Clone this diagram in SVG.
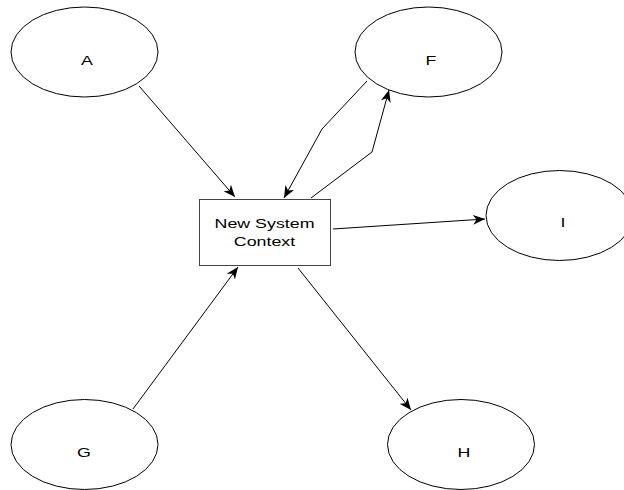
<svg xmlns="http://www.w3.org/2000/svg" width="624" height="490" viewBox="0 0 624 490">
  <defs>
    <marker id="arrow" viewBox="0 0 12 10" refX="12" refY="5" markerWidth="12" markerHeight="10" markerUnits="userSpaceOnUse" orient="auto">
      <path d="M0,0 L12,5 L0,10 L3.5,5 Z" fill="#000"/>
    </marker>
  </defs>
  <style>
    .node ellipse { fill: #fff; stroke: #000; stroke-width: 1; }
    .node rect { fill: #fff; stroke: #444; stroke-width: 1; }
    .label { font-family: "Liberation Sans", Arial, sans-serif; font-size: 13.5px; fill: #000; text-anchor: middle; }
    .edge { fill: none; stroke: #000; stroke-width: 1; marker-end: url(#arrow); }
  </style>
  <rect width="624" height="490" fill="#fff"/>

  <g id="connectors">
    <path class="edge" d="M139,86 L235,197"/>
    <path class="edge" d="M367,81 L322,129 L284,198"/>
    <path class="edge" d="M311,198 L372,152 L389,90"/>
    <path class="edge" d="M333,229 L485,219"/>
    <path class="edge" d="M298,268 L411,410"/>
    <path class="edge" d="M133,409 L238,267"/>
  </g>

  <g id="node-A" class="node">
    <ellipse cx="84.5" cy="52" rx="73.5" ry="45"/>
    <text class="label" transform="translate(87,65) scale(1.32,1)">A</text>
  </g>
  <g id="node-F" class="node">
    <ellipse cx="428.5" cy="52" rx="73.5" ry="45"/>
    <text class="label" transform="translate(431,65) scale(1.32,1)">F</text>
  </g>
  <g id="node-I" class="node">
    <ellipse cx="559.5" cy="215.5" rx="73.5" ry="45"/>
    <text class="label" transform="translate(563,227) scale(1.32,1)">I</text>
  </g>
  <g id="node-G" class="node">
    <ellipse cx="84.5" cy="444.5" rx="73.5" ry="45"/>
    <text class="label" transform="translate(84,457) scale(1.32,1)">G</text>
  </g>
  <g id="node-H" class="node">
    <ellipse cx="461" cy="444.5" rx="73.5" ry="45"/>
    <text class="label" transform="translate(464,457) scale(1.32,1)">H</text>
  </g>
  <g id="node-context" class="node">
    <rect x="199.5" y="199.5" width="131" height="66"/>
    <text class="label" transform="translate(264.5,228) scale(1.32,1)">New System</text>
    <text class="label" transform="translate(264.5,246) scale(1.32,1)">Context</text>
  </g>
</svg>
